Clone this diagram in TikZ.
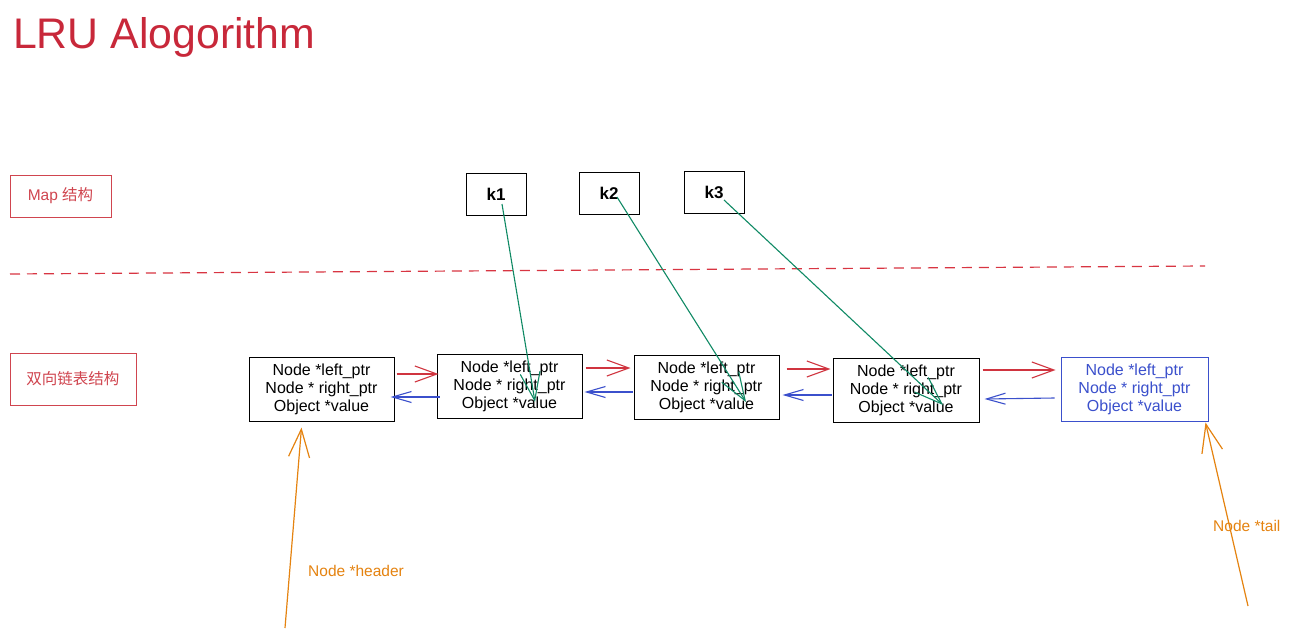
\documentclass[tikz,border=0pt]{standalone}
\usepackage{fontspec}
\setmainfont{Liberation Sans}
\newfontfamily\cjk{Noto Sans CJK SC}
\usetikzlibrary{arrows.meta}
\definecolor{titlered}{HTML}{C8283A}
\definecolor{boxred}{HTML}{D0454F}
\definecolor{dashred}{HTML}{D83542}
\definecolor{arrred}{HTML}{D0343F}
\definecolor{arrblue}{HTML}{3B50CC}
\definecolor{grn}{HTML}{108A65}
\definecolor{orng}{HTML}{E58310}
\tikzset{
  listbox/.style={draw=black, line width=1pt, minimum width=145pt, minimum height=64pt, inner sep=0pt, align=center, font=\fontsize{16}{18}\selectfont},
  keybox/.style={draw=black, line width=1pt, minimum width=60pt, minimum height=42pt, inner sep=0pt, font=\fontsize{17}{20}\selectfont\bfseries},
  labelbox/.style={draw=boxred, line width=1pt, inner sep=0pt, text=boxred, font=\fontsize{15.5}{18}\selectfont},
  nextarrow/.style={draw=arrred, line width=1.1pt, -{Straight Barb[length=22pt,width=16pt]}},
  prevarrow/.style={draw=arrblue, line width=1.1pt, -{Straight Barb[length=19pt,width=11pt]}},
  maparrow/.style={draw=grn, line width=1.1pt, -{Straight Barb[length=28pt,width=20pt]}},
  ptrarrow/.style={draw=orng, line width=1.2pt, -{Straight Barb[length=28pt,width=21pt]}},
  ptrlabel/.style={text=orng, anchor=west, inner sep=0pt, font=\fontsize{15.5}{18}\selectfont},
}
\begin{document}
\begin{tikzpicture}[x=1pt,y=-1pt]
\useasboundingbox (0,0) rectangle (1294,637);
\fill[white] (0,0) rectangle (1294,637);
% title
\node[anchor=base west, inner sep=0pt, text=titlered, font=\fontsize{42.8}{48}\selectfont] (title) at (13,48) {LRU Alogorithm};
% section labels
\node[labelbox, minimum width=101pt, minimum height=42pt] (maplbl) at (60.5,196) {Map {\cjk 结构}};
\node[labelbox, minimum width=126pt, minimum height=52pt] (listlbl) at (73,379) {\cjk 双向链表结构};
% dashed divider
\coordinate (dl) at (10,274);
\coordinate (dr) at (1205,266);
\draw[dashred, line width=1.2pt, dash pattern=on 10pt off 7pt] (dl) -- (dr);
% keys
\node[keybox] (k1) at (496,194) {k1};
\node[keybox] (k2) at (609,193) {k2};
\node[keybox] (k3) at (714,192) {k3};
% list nodes
\node[listbox] (B1) at (321.5,389) {Node *left\_ptr\\Node * right\_ptr\\Object *value};
\node[listbox] (B2) at (509.5,386) {Node *left\_ptr\\Node * right\_ptr\\Object *value};
\node[listbox] (B3) at (706.5,387) {Node *left\_ptr\\Node * right\_ptr\\Object *value};
\node[listbox, minimum width=146pt] (B4) at (906,390) {Node *left\_ptr\\Node * right\_ptr\\Object *value};
\node[listbox, draw=arrblue, text=arrblue, minimum width=147pt] (B5) at (1134.5,389) {Node *left\_ptr\\Node * right\_ptr\\Object *value};
% next pointers
\draw[nextarrow] ([shift={(2,-15)}]B1.east) -- ([shift={(2,-12)}]B2.west);
\draw[nextarrow] ([shift={(3,-18)}]B2.east) -- ([shift={(-3,-19)}]B3.west);
\draw[nextarrow] ([shift={(7,-18)}]B3.east) -- ([shift={(-2,-21)}]B4.west);
\draw[nextarrow] ([shift={(3,-20)}]B4.east) -- ([shift={(-5,-19)}]B5.west);
% prev pointers
\draw[prevarrow] ([shift={(3,11)}]B2.west) -- ([shift={(-4,8)}]B1.east);
\draw[prevarrow] ([shift={(-1,5)}]B3.west) -- ([shift={(2,6)}]B2.east);
\draw[prevarrow] ([shift={(-1,5)}]B4.west) -- ([shift={(3,8)}]B3.east);
\draw[prevarrow] ([shift={(-6,9)}]B5.west) -- ([shift={(5,9)}]B4.east);
% map pointers
\draw[maparrow] ([shift={(6,10)}]k1.center) -- ([shift={(25.5,16)}]B2.center);
\draw[maparrow] ([shift={(8,4)}]k2.center) -- ([shift={(39.5,15)}]B3.center);
\draw[maparrow] ([shift={(10,8)}]k3.center) -- ([shift={(37,15)}]B4.center);
% header / tail
\coordinate (hstart) at (285,628);
\coordinate (tstart) at (1248,606);
\draw[ptrarrow] (hstart) -- ([shift={(-20,6)}]B1.south);
\draw[ptrarrow] (tstart) -- ([shift={(-3,1)}]B5.south east);
\node[ptrlabel] (hlbl) at (308,571) {Node *header};
\node[ptrlabel] (tlbl) at (1213,526) {Node *tail};
\end{tikzpicture}
\end{document}
